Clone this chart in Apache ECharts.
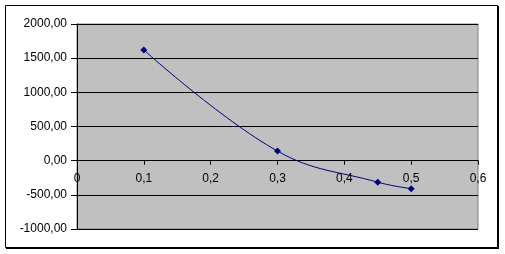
<!DOCTYPE html>
<html>
<head>
<meta charset="utf-8">
<script src="https://cdn.jsdelivr.net/npm/echarts@6/dist/echarts.min.js"></script>
<style>
html,body{margin:0;padding:0;background:#fff;}
#c{width:505px;height:254px;}
</style>
</head>
<body>
<div id="c"></div>
<script>
const xValues = [0.1, 0.3, 0.45, 0.5];
const yValues = [1620, 140, -315, -410];
const yTicks = { min: -1000, max: 2000, interval: 500 };
const xTicks = { min: 0, max: 0.6, interval: 0.1 };

const chart = echarts.init(document.getElementById('c'), null, { renderer: 'canvas' });
const font = 'Liberation Sans, Arial, sans-serif';
const option = {
  animation: false,
  backgroundColor: '#ffffff',
  graphic: [
    { type: 'rect', shape: { x: 5.5, y: 5.5, width: 492, height: 242 }, style: { fill: null, stroke: '#000', lineWidth: 1 }, z: 100 },
    { type: 'line', shape: { x1: 498.5, y1: 6, x2: 498.5, y2: 249 }, style: { stroke: '#000', lineWidth: 1 }, z: 100 },
    { type: 'line', shape: { x1: 6, y1: 248.5, x2: 499, y2: 248.5 }, style: { stroke: '#000', lineWidth: 1 }, z: 100 }
  ],
  grid: {
    left: 77, right: 27, top: 24, bottom: 25,
    containLabel: false,
    show: true, backgroundColor: '#C0C0C0', borderColor: '#808080', borderWidth: 1
  },
  xAxis: {
    type: 'value', min: xTicks.min, max: xTicks.max, interval: xTicks.interval,
    offset: 0,
    axisLine: { show: true, onZero: true, lineStyle: { color: '#000', width: 1 } },
    axisTick: { show: true, inside: false, length: 4, lineStyle: { color: '#000' } },
    splitLine: { show: false },
    axisLabel: {
      color: '#000', fontFamily: font, fontSize: 12, margin: 12,
      showMinLabel: true, showMaxLabel: true,
      formatter: v => (Math.abs(v) < 1e-9 ? '0' : v.toFixed(1).replace('.', ','))
    }
  },
  yAxis: {
    type: 'value', min: yTicks.min, max: yTicks.max, interval: yTicks.interval,
    axisLine: { show: true, onZero: false, lineStyle: { color: '#000', width: 1 } },
    axisTick: { show: true, inside: false, length: 6, lineStyle: { color: '#000' } },
    splitLine: { show: true, lineStyle: { color: '#000', width: 1 } },
    axisLabel: {
      color: '#000', fontFamily: font, fontSize: 12, margin: 10,
      showMinLabel: true, showMaxLabel: true,
      formatter: v => v.toFixed(2).replace('.', ',')
    }
  },
  series: [{
    type: 'line',
    smooth: 0.4,
    data: xValues.map((x, i) => [x, yValues[i]]),
    symbol: 'diamond', symbolSize: 7,
    itemStyle: { color: '#000080' },
    lineStyle: { color: '#000080', width: 1 },
    z: 5
  }]
};
chart.setOption(option);
// Place the x axis on the y = 0 line using the library's own scale
const yZero = chart.convertToPixel({ yAxisIndex: 0 }, 0);
const yBottom = chart.convertToPixel({ yAxisIndex: 0 }, yTicks.min);
chart.setOption({ xAxis: { offset: yZero - yBottom } });
</script>
</body>
</html>
